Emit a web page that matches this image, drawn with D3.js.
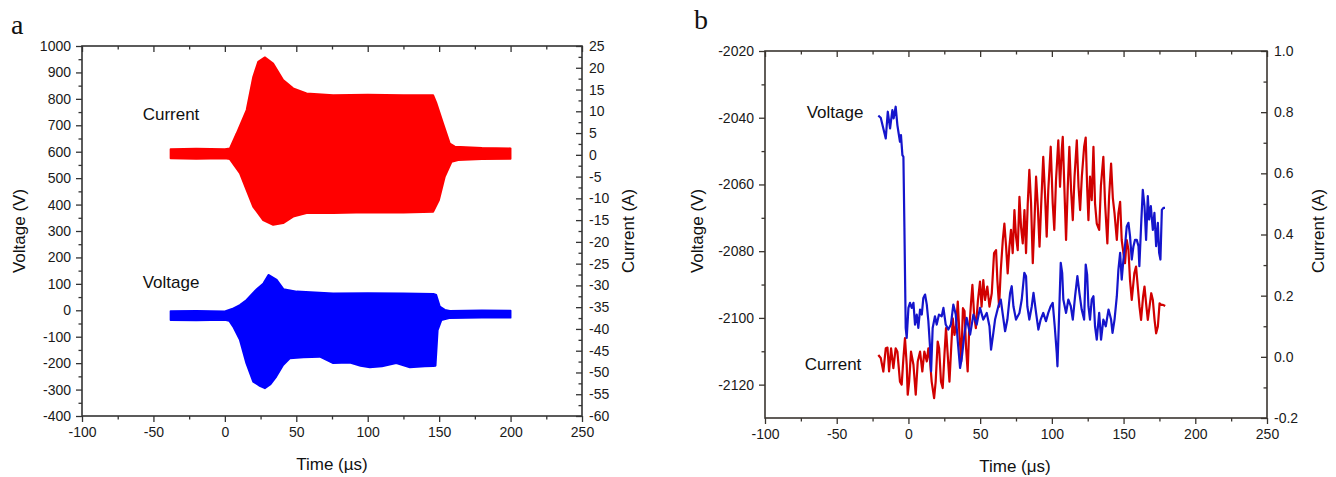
<!DOCTYPE html>
<html><head><meta charset="utf-8">
<script src="https://cdn.jsdelivr.net/npm/d3@7"></script>
<style>
body{margin:0;background:#fff}
</style></head>
<body><svg id="c" width="1336" height="477"></svg>
<script>
// ---------------- Panel a data (envelopes of the dense oscillation) ----------------
const aCurUpT = [-38,-20,0,3.5,8.2,15.2,19.8,23.3,28,33.8,40.8,47.8,57.2,75.8,100,125,145.8,148.2,152.8,157.5,161,180,200];
const aCurUpA = [1.3,1.4,1.3,1.5,4.9,10.3,17.9,21.4,22.4,21.0,17.2,15.3,14.1,13.7,13.8,13.7,13.7,11.8,7.2,2.6,1.9,1.6,1.5];
const aCurLoT = [-38,-20,0,3.5,10.5,15.2,19.8,26.8,33.8,40.8,47.8,57.2,75.8,100,125,145.8,149.9,154,158.7,163.3,180,200];
const aCurLoA = [-0.8,-0.9,-0.8,-1.0,-4.2,-8.1,-11.9,-15.0,-16.1,-15.7,-14.2,-13.4,-13.4,-13.2,-13.3,-13.1,-10.4,-5.0,-1.6,-1.2,-1.0,-0.9];
const aVoltUpT = [-38,-20,0,5,10.5,15.2,22.3,27,30.5,36.3,41,50.4,75.8,100,125,146,148,150.5,154,157.5,180,200];
const aVoltUpV = [-3,-2,-4,5,20,39,80,102,134,115,80,71,64,65,64,62,58,14,2,-2,0,-1];
const aVoltLoT = [-38,-20,0,3,5.8,10.5,15,19.8,24,28,32,36,40.8,45.5,55,66.5,75.8,87.5,95,101.5,110,120,129.5,140,145.8,147.5,149,151.6,157,180,200];
const aVoltLoV = [-37,-38,-36,-40,-62,-112,-200,-270,-285,-295,-280,-251,-207,-182,-178,-176,-200,-198,-210,-216,-212,-200,-216,-212,-211,-210,-75,-37,-30,-28,-28];

// ---------------- Panel b data ----------------
const bVoltT = [-21,-19.3,-17.5,-15.8,-14.4,-12.8,-11.2,-10.3,-8.9,-7.7,-7,-5.9,-5.2,-4.2,-3.5,-2.8,-1.9,-1.2,0,1.1,2.3,3.5,4.6,5.8,6.9,8.1,9.3,10.4,11.6,12.8,13.9,15.1,15.8,16.9,18.5,19.7,21.3,23.2,24.4,26,27.8,29.6,31.3,33,34.4,36,37.2,39,40.6,43,45.3,47.6,49.9,52.2,54.6,56.5,57.6,59.2,60.4,62.7,64.4,65.8,67.4,69,70.9,72,73.2,75,77.4,79,80.8,82,82.9,84.3,86,87.2,89,90.6,92.2,94,95.9,97.5,99.2,100.6,102,103.4,103.9,104.8,106.2,107.2,108,109.9,111.5,113.2,114.6,116.2,117.8,119.2,120.8,122.5,123.6,124.6,125.5,126.6,127.8,129,130.1,131.3,133,134.3,135.9,137.6,139.5,141.3,142.3,143.7,145.3,146.4,147.6,148.7,149.9,151,152.2,153.4,154.5,155.7,156.9,158,159.2,160.4,161,162.2,163.4,164.6,165.7,166.9,167.8,169,170.4,171.5,172.7,173.9,174.8,175.7,176.7,177.8,178.9];
const bVoltV = [-2039.4,-2040,-2043.2,-2046.2,-2038.2,-2043.2,-2037.7,-2040.2,-2036.7,-2042.2,-2044.2,-2047.2,-2045.2,-2051.2,-2051.7,-2073,-2103,-2106,-2097,-2095.5,-2097,-2095.5,-2102,-2099,-2103,-2097.5,-2099,-2094,-2093,-2096,-2101,-2109,-2116,-2103,-2099.5,-2102,-2099,-2099.5,-2097,-2102,-2103.5,-2102,-2096,-2099,-2107,-2115,-2112,-2105,-2100,-2105,-2099,-2102,-2097,-2100.5,-2098.5,-2102.5,-2109.5,-2104.5,-2100.5,-2096.5,-2094.5,-2099,-2104,-2100.5,-2092.5,-2090.5,-2096.5,-2100.5,-2098.5,-2094.5,-2086.5,-2087.5,-2096.5,-2100.5,-2096.5,-2092.5,-2098.5,-2103.5,-2100.5,-2098.5,-2101,-2098.5,-2096.5,-2095.5,-2102.5,-2110.5,-2114.5,-2102.5,-2083.5,-2086.5,-2094.5,-2098.5,-2094.5,-2096.5,-2100.5,-2093.5,-2087.5,-2092.5,-2097.5,-2100.5,-2084,-2087,-2096.5,-2100.5,-2094.5,-2093.5,-2102.5,-2106.5,-2098.5,-2106.5,-2100.5,-2102.5,-2097.5,-2100.5,-2104.5,-2100.5,-2093.5,-2085.5,-2080.5,-2088.5,-2082.5,-2078.5,-2072.6,-2071.5,-2075.5,-2082.5,-2078.5,-2076.6,-2076.6,-2078.5,-2084.5,-2072.6,-2061.6,-2066.5,-2076.6,-2063.5,-2070.5,-2066.5,-2073.6,-2068.5,-2078.5,-2071.5,-2080.5,-2082.5,-2067.6,-2067,-2067];
const bCurT = [-21,-19.3,-17.5,-15.8,-14.6,-13.5,-12.1,-10.5,-8.9,-7.7,-5.9,-4.7,-3.5,-2.4,-1.2,-0.5,0.5,1.8,3.5,5.1,6.5,8.1,9.7,11.1,12.8,13.9,15.1,16.2,17.9,19,20.4,21.4,22.7,23.9,25.1,26.2,27.4,28.6,29.8,30.9,32.1,33.3,34.4,35.6,36.8,38,39.1,40.2,41.3,42.3,43.7,44.6,45.8,47,48.4,49.9,51,52.2,53.4,55,56.5,58.1,59.7,61.1,62,63.2,64.4,65.8,66.9,68.1,69.2,70.4,71.5,72.7,73.9,75,76.2,77.4,78.5,79.7,80.9,82,83.2,84.3,85.5,86.7,87.9,89,90.2,91.4,92.6,94,95.2,96.4,97.5,99.2,100.6,101.7,102.9,104.5,105.7,106.9,107.6,108.7,109.9,111.1,112.2,113.4,114.6,115.8,117.4,118.6,119.7,120.9,122.5,123.6,124.6,125.5,126.6,127.8,129,130.1,131.3,133,134.2,135.9,137.1,138.7,139.9,141.3,142.5,143.7,145.3,146.4,147.6,148.7,149.9,151,152.2,153.4,154.5,155.7,157.5,158.7,159.9,161.1,162.2,163.6,164.6,165.7,166.9,168.1,169.3,170.4,171.6,172.7,173.9,175.1,176.3,177.5,179];
const bCurA = [0.006,-0.004,-0.048,0.028,0.03,-0.048,0.028,-0.037,0.028,0.017,-0.081,-0.091,-0.004,0.061,-0.026,-0.124,-0.081,0.017,-0.026,-0.124,-0.015,0.017,-0.048,0.017,-0.015,0.028,-0.015,-0.081,-0.135,-0.081,0.05,0.028,-0.081,-0.102,0.006,0.094,0.006,-0.081,0.028,0.126,0.072,0.104,0.181,0.072,-0.015,0.159,0.15,0.028,-0.048,0.083,0.181,0.235,0.137,0.094,0.181,0.246,0.164,0.251,0.186,0.23,0.164,0.208,0.339,0.349,0.251,0.164,0.284,0.382,0.436,0.36,0.273,0.36,0.415,0.339,0.48,0.393,0.349,0.523,0.425,0.371,0.48,0.339,0.502,0.611,0.502,0.306,0.447,0.589,0.491,0.36,0.502,0.654,0.534,0.393,0.545,0.687,0.502,0.415,0.578,0.708,0.556,0.676,0.719,0.556,0.382,0.556,0.687,0.545,0.447,0.589,0.708,0.556,0.48,0.589,0.687,0.717,0.556,0.447,0.589,0.512,0.687,0.502,0.436,0.415,0.56,0.654,0.502,0.371,0.523,0.632,0.52,0.469,0.382,0.469,0.507,0.382,0.339,0.306,0.382,0.35,0.251,0.186,0.273,0.295,0.23,0.164,0.121,0.197,0.23,0.175,0.121,0.164,0.208,0.186,0.121,0.077,0.099,0.175,0.17,0.17,0.166];

// ---------------- Tick labels ----------------
const xTicks = [-100,-50,0,50,100,150,200,250];
const aYLeftTicks = [-400,-300,-200,-100,0,100,200,300,400,500,600,700,800,900,1000];
const aYRightTicks = [-60,-55,-50,-45,-40,-35,-30,-25,-20,-15,-10,-5,0,5,10,15,20,25];
const bYLeftTicks = [-2120,-2100,-2080,-2060,-2040,-2020];
const bYRightTicks = [-0.2,0.0,0.2,0.4,0.6,0.8,1.0];

const SANS = '"Liberation Sans",Arial,Helvetica,sans-serif';
const SERIF = '"Liberation Serif","Times New Roman",serif';

const svg = d3.select('#c');
svg.append('rect').attr('width',1336).attr('height',477).attr('fill','#fff');

function mids(arr){const r=[];for(let i=0;i<arr.length-1;i++)r.push((arr[i]+arr[i+1])/2);return r;}

function frame(x, yL, yR, xt, ylt, yrt, fmtL, fmtR, col){
  const [x0,x1]=x.range(), [yb,yt]=yL.range();
  const g = svg.append('g');
  const style = sel => {
    sel.select('.domain').remove();
    sel.selectAll('line').attr('stroke',col).attr('stroke-width',1.3);
    sel.selectAll('text').style('font-size','14px').style('fill','#1a1a1a').style('font-family',SANS);
  };
  g.append('g').attr('transform',`translate(0,${yb})`)
    .call(d3.axisBottom(x).tickValues(xt).tickSizeInner(6).tickSizeOuter(0).tickPadding(5).tickFormat(d=>String(d))).call(style);
  g.append('g').attr('transform',`translate(0,${yb})`)
    .call(d3.axisBottom(x).tickValues(mids(xt)).tickSize(3.5).tickFormat('')).call(style);
  g.append('g').attr('transform',`translate(0,${yt})`)
    .call(d3.axisBottom(x).tickValues(xt).tickSize(6).tickFormat('')).call(style);
  g.append('g').attr('transform',`translate(0,${yt})`)
    .call(d3.axisBottom(x).tickValues(mids(xt)).tickSize(3.5).tickFormat('')).call(style);
  g.append('g').attr('transform',`translate(${x0},0)`)
    .call(d3.axisLeft(yL).tickValues(ylt).tickSizeInner(6).tickSizeOuter(0).tickPadding(5).tickFormat(fmtL)).call(style);
  g.append('g').attr('transform',`translate(${x0},0)`)
    .call(d3.axisLeft(yL).tickValues(mids(ylt)).tickSize(3.5).tickFormat('')).call(style);
  g.append('g').attr('transform',`translate(${x1},0)`)
    .call(d3.axisRight(yR).tickValues(yrt).tickSizeInner(-6).tickSizeOuter(0).tickPadding(7).tickFormat(fmtR)).call(style);
  g.append('g').attr('transform',`translate(${x1},0)`)
    .call(d3.axisRight(yR).tickValues(mids(yrt)).tickSize(-3.5).tickFormat('')).call(style);
  g.append('rect').attr('x',x0).attr('y',yt).attr('width',x1-x0).attr('height',yb-yt)
    .attr('fill','none').attr('stroke',col).attr('stroke-width',1.6);
}

function label(x,y,txt,size,rot,anchor,family){
  const t = svg.append('text').style('font-size',size+'px').style('fill','#111')
    .style('font-family',family||SANS)
    .attr('text-anchor',anchor||'middle').attr('dominant-baseline','central').text(txt);
  if(rot) t.attr('transform',`translate(${x},${y}) rotate(${rot})`);
  else t.attr('x',x).attr('y',y);
}

// ================= Panel a =================
const ax = d3.scaleLinear().domain([-100,250]).range([82,582]);
const ayL = d3.scaleLinear().domain([-400,1000]).range([416,46]);
const ayR = d3.scaleLinear().domain([-60,25]).range([416,46]);

function envelope(upT,upV,loT,loV,ys){
  const pts = upT.map((t,i)=>[ax(t),ys(upV[i])]);
  for(let i=loT.length-1;i>=0;i--) pts.push([ax(loT[i]),ys(loV[i])]);
  return d3.line()(pts)+'Z';
}
svg.append('path').attr('d',envelope(aCurUpT,aCurUpA,aCurLoT,aCurLoA,ayR))
  .attr('fill','#ff0000').attr('stroke','#ff0000').attr('stroke-width',1.8).attr('stroke-linejoin','round');
svg.append('path').attr('d',envelope(aVoltUpT,aVoltUpV,aVoltLoT,aVoltLoV,ayL))
  .attr('fill','#0000ff').attr('stroke','#0000ff').attr('stroke-width',1.8).attr('stroke-linejoin','round');

frame(ax,ayL,ayR,xTicks,aYLeftTicks,aYRightTicks,d=>String(d),d=>String(d),'#333');

label(11,24,'a',28,0,'start',SERIF);
label(171,114,'Current',17);
label(171,282,'Voltage',17);
label(332,464,'Time (µs)',17);
label(19,231,'Voltage (V)',17,-90);
label(628,231,'Current (A)',17,-90);

// ================= Panel b =================
const bx = d3.scaleLinear().domain([-100,250]).range([765,1267]);
const byL = d3.scaleLinear().domain([-2130,-2020]).range([418,51]);
const byR = d3.scaleLinear().domain([-0.2,1.0]).range([418,51]);

svg.append('path').attr('d',d3.line()(bCurT.map((t,i)=>[bx(t),byR(bCurA[i])])))
  .attr('fill','none').attr('stroke','#d10000').attr('stroke-width',2.2).attr('stroke-linejoin','round');
svg.append('path').attr('d',d3.line()(bVoltT.map((t,i)=>[bx(t),byL(bVoltV[i])])))
  .attr('fill','none').attr('stroke','#1515cc').attr('stroke-width',2.2).attr('stroke-linejoin','round');

frame(bx,byL,byR,xTicks,bYLeftTicks,bYRightTicks,d=>String(d),d=>d.toFixed(1),'#3a3530');

label(694,19,'b',28,0,'start',SERIF);
label(835,112,'Voltage',17);
label(833,364,'Current',17);
label(1015,466,'Time (μs)',17);
label(697,231,'Voltage (V)',17,-90);
label(1318,231,'Current (A)',17,-90);
</script></body></html>
